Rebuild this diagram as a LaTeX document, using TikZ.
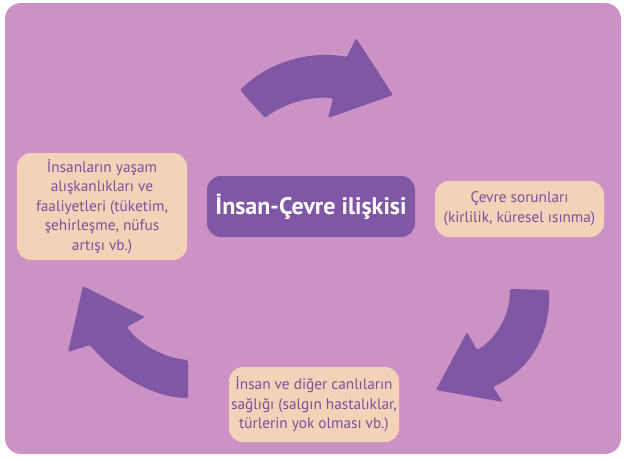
\documentclass[tikz,border=0pt]{standalone}
\usepackage{fontspec}
\setmainfont{PT Sans}
\definecolor{bgpink}{RGB}{205,146,197}
\definecolor{arrowpurple}{RGB}{128,87,165}
\definecolor{boxpeach}{RGB}{243,210,184}
\definecolor{textpurple}{RGB}{123,80,160}
\tikzset{
	infobox/.style={fill=boxpeach, rounded corners=14pt, text=textpurple, align=center, inner sep=0pt, font=\fontsize{15.3}{19.6}\selectfont},
	titlebox/.style={fill=arrowpurple, rounded corners=14pt, text=white, inner sep=0pt, font=\bfseries\fontsize{24}{28}\selectfont},
	cyclearrow/.style={fill=arrowpurple, rounded corners=1.5pt}
}
\begin{document}
\begin{tikzpicture}[x=1pt, y=-1pt]
	\useasboundingbox (0,0) rectangle (628,458);
	\fill[white] (0,0) rectangle (628,458);%Rand
	\fill[bgpink, rounded corners=16pt] (5,3) rectangle (621,454);%Hintergrund

	\node[titlebox, minimum width=208pt, minimum height=61pt] (center) at (311,206.5) {İnsan-Çevre ilişkisi};
	\node[infobox, minimum width=170pt, minimum height=107pt] (habits) at (102,206.5) {İnsanların yaşam\\alışkanlıkları ve\\faaliyetleri (tüketim,\\şehirleşme, nüfus\\artışı vb.)};
	\node[infobox, minimum width=169pt, minimum height=56pt] (problems) at (519.5,209) {Çevre sorunları\\(kirlilik, küresel ısınma)};
	\node[infobox, minimum width=170pt, minimum height=75pt] (health) at (314,404.5) {İnsan ve diğer canlıların\\sağlığı (salgın hastalıklar,\\türlerin yok olması vb.)};

	%oberer Pfeil
	\coordinate (A) at (240,90);
	\coordinate (B) at (265,118);
	\fill[cyclearrow] (A) .. controls (268,62) and (310,50) .. (347,57) -- (356,38) -- (393,95) -- (328,118) -- (333,98) .. controls (305,96) and (280,106) .. (B) -- cycle;

	%rechter Pfeil
	\coordinate (C) at (510,289);
	\coordinate (D) at (549,290);
	\fill[cyclearrow] (D) .. controls (551,335) and (530,370) .. (493,387) -- (503,402) -- (436,390) -- (467,332) -- (477,350) .. controls (497,338) and (510,315) .. (C) -- cycle;

	%linker Pfeil
	\coordinate (E) at (188,398);
	\coordinate (F) at (188,360);
	\fill[cyclearrow] (E) .. controls (150,398) and (110,370) .. (90,345) -- (68,352) -- (83,286) -- (145,317) -- (127,327) .. controls (140,345) and (165,358) .. (F) -- cycle;
\end{tikzpicture}
\end{document}
